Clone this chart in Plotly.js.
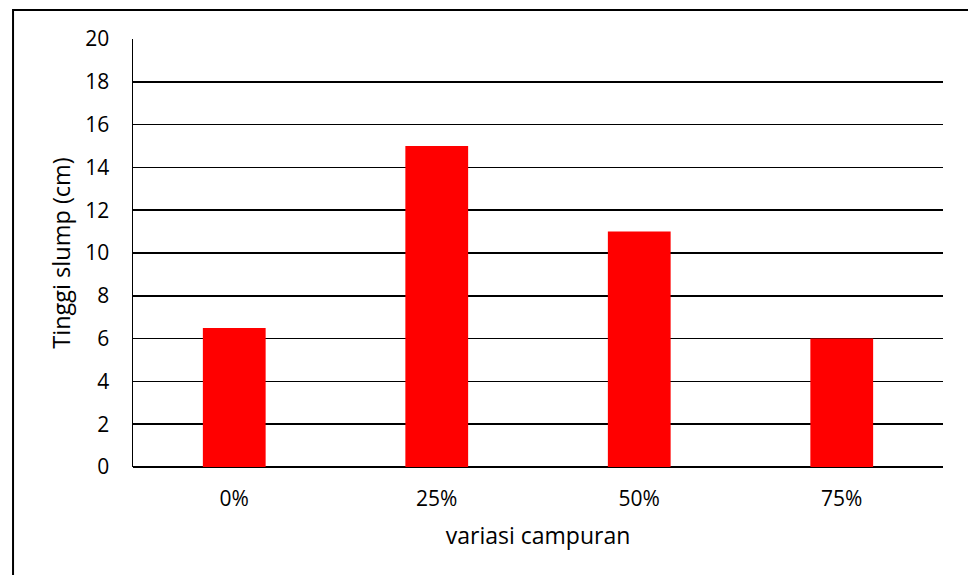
<!DOCTYPE html>
<html>
<head>
<meta charset="utf-8">
<script src="https://cdn.plot.ly/plotly-3.0.1.min.js"></script>
<style>
  html, body { margin: 0; padding: 0; background: #fff; }
  #chart { width: 968px; height: 575px; }
</style>
</head>
<body>
<div id="chart"></div>
<script>
// Slump height per mix variation
const categories = ['0%', '25%', '50%', '75%'];
const slumpValues = [6.5, 15, 11, 6];
const yTicks = [0, 2, 4, 6, 8, 10, 12, 14, 16, 18, 20];

const fontFamily = '"Open Sans", "Liberation Sans", Arial, sans-serif';

const trace = {
  type: 'bar',
  x: categories,
  y: slumpValues,
  marker: { color: '#ff0000', line: { width: 0 } },
  hoverinfo: 'x+y'
};

const layout = {
  width: 968,
  height: 575,
  margin: { l: 133, r: 25, t: 39, b: 108, pad: 0 },
  paper_bgcolor: '#ffffff',
  plot_bgcolor: '#ffffff',
  bargap: 0.69,
  showlegend: false,
  font: { family: fontFamily, color: '#000000' },
  xaxis: {
    type: 'category',
    showgrid: false,
    showline: false,
    zeroline: false,
    ticks: '',
    ticklabelstandoff: 17,
    tickfont: { size: 21, family: fontFamily, color: '#000' },
    title: { text: 'variasi campuran', font: { size: 23, family: fontFamily, color: '#000' }, standoff: 16 }
  },
  yaxis: {
    range: [0, 20],
    tickvals: yTicks,
    ticktext: yTicks.map(String),
    showgrid: true,
    gridcolor: '#000000',
    gridwidth: 1.5,
    showline: true,
    linecolor: '#000000',
    linewidth: 1.5,
    zeroline: true,
    zerolinecolor: '#000000',
    zerolinewidth: 1.5,
    ticks: '',
    ticklabelstandoff: 18,
    tickfont: { size: 21, family: fontFamily, color: '#000' },
    title: { text: 'Tinggi slump (cm)', font: { size: 23.5, family: fontFamily, color: '#000' }, standoff: 8 }
  },
  shapes: [{
    // chart frame around the whole figure
    type: 'rect',
    xref: 'paper', yref: 'paper',
    x0: -0.1481, x1: 1.2,
    y0: -0.4, y1: 1.0678,
    line: { color: '#000000', width: 2 },
    fillcolor: 'rgba(0,0,0,0)',
    layer: 'above'
  }]
};

Plotly.newPlot('chart', [trace], layout, { displayModeBar: false, staticPlot: true });
</script>
</body>
</html>
